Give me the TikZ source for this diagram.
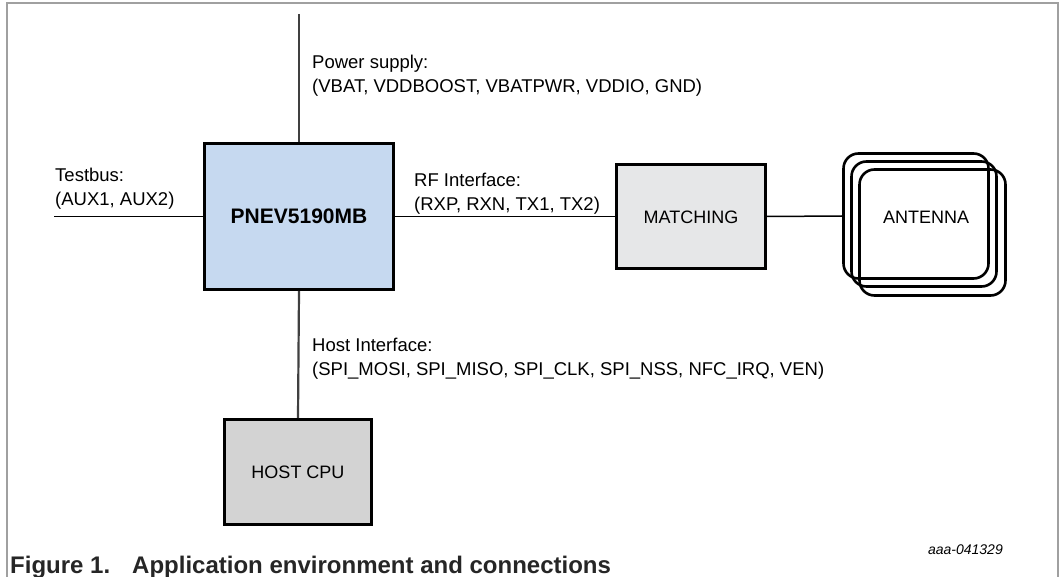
\documentclass[tikz,border=0pt]{standalone}
\usepackage{fontspec}
\setmainfont{Liberation Sans}
\definecolor{pnevblue}{HTML}{C6D9F0}
\definecolor{matchgray}{HTML}{E6E7E8}
\definecolor{hostgray}{HTML}{D3D3D3}
\definecolor{framegray}{HTML}{A0A0A0}
\definecolor{wiregray}{HTML}{404040}
\definecolor{captext}{HTML}{262626}
\tikzset{
  blockbox/.style={draw=black, line width=3pt, inner sep=0pt, font=\fontsize{18}{22}\selectfont},
  antbox/.style={draw=black, line width=2.6pt, rounded corners=15pt, inner sep=0pt},
  lbl/.style={anchor=north west, align=left, inner sep=0pt, font=\fontsize{18.5}{23.5}\selectfont},
  vwire/.style={draw=wiregray, line width=2.2pt},
  hwire/.style={draw=black, line width=1.5pt},
}
\begin{document}
\begin{tikzpicture}[x=1pt,y=-1pt]
\useasboundingbox (0,0) rectangle (1061,577);
\draw[framegray, line width=1.5pt] (7,577) -- (7,3) -- (1058,3) -- (1058,577);

\node[blockbox, fill=pnevblue, minimum width=189pt, minimum height=146pt,
      font=\fontsize{21}{25}\selectfont\bfseries] (pnev) at (299,216.5) {PNEV5190MB};
\node[blockbox, fill=matchgray, minimum width=149pt, minimum height=104pt] (match) at (691,216.5) {};
\node[font=\fontsize{18}{22}\selectfont] (matchtxt) at (691,217) {MATCHING};
\node[blockbox, fill=hostgray, minimum width=147pt, minimum height=105pt] (host) at (298,472) {};
\node[font=\fontsize{18}{22}\selectfont] (hosttxt) at (298,472) {HOST CPU};

\node[antbox, minimum width=145pt, minimum height=125pt] (ant1) at (916,216) {};
\node[antbox, minimum width=145pt, minimum height=125pt] (ant2) at (924,224) {};
\node[antbox, minimum width=146pt, minimum height=126pt] (ant3) at (932.5,232.5) {};
\node[font=\fontsize{18}{22}\selectfont] (anttxt) at (926,217) {ANTENNA};

\coordinate (ptop) at (299,14);
\coordinate (tbend) at (54,216.5);
\draw[vwire] (ptop) -- (pnev.north);
\draw[vwire] (pnev.south) -- (host.north);
\draw[hwire] (tbend) -- (pnev.west);
\draw[hwire] (pnev.east) -- (match.west);
\draw[hwire] (match.east) -- (ant1.west);

\node[lbl] (pwr) at (312,55) {Power supply:\\(VBAT, VDDBOOST, VBATPWR, VDDIO, GND)};
\node[lbl] (tb) at (55,168) {Testbus:\\(AUX1, AUX2)};
\node[lbl] (rf) at (414,173) {RF Interface:\\(RXP, RXN, TX1, TX2)};
\node[lbl] (hi) at (312,338) {Host Interface:\\(SPI\_MOSI, SPI\_MISO, SPI\_CLK, SPI\_NSS, NFC\_IRQ, VEN)};

\node[anchor=base east, inner sep=0pt, font=\fontsize{14}{16}\selectfont\itshape] (code) at (1003,554) {aaa-041329};
\node[anchor=base west, inner sep=0pt, text=captext, font=\fontsize{24}{26}\selectfont\bfseries] (cap) at (10,573)
  {Figure 1.\hspace{22pt}Application environment and connections};
\end{tikzpicture}
\end{document}
